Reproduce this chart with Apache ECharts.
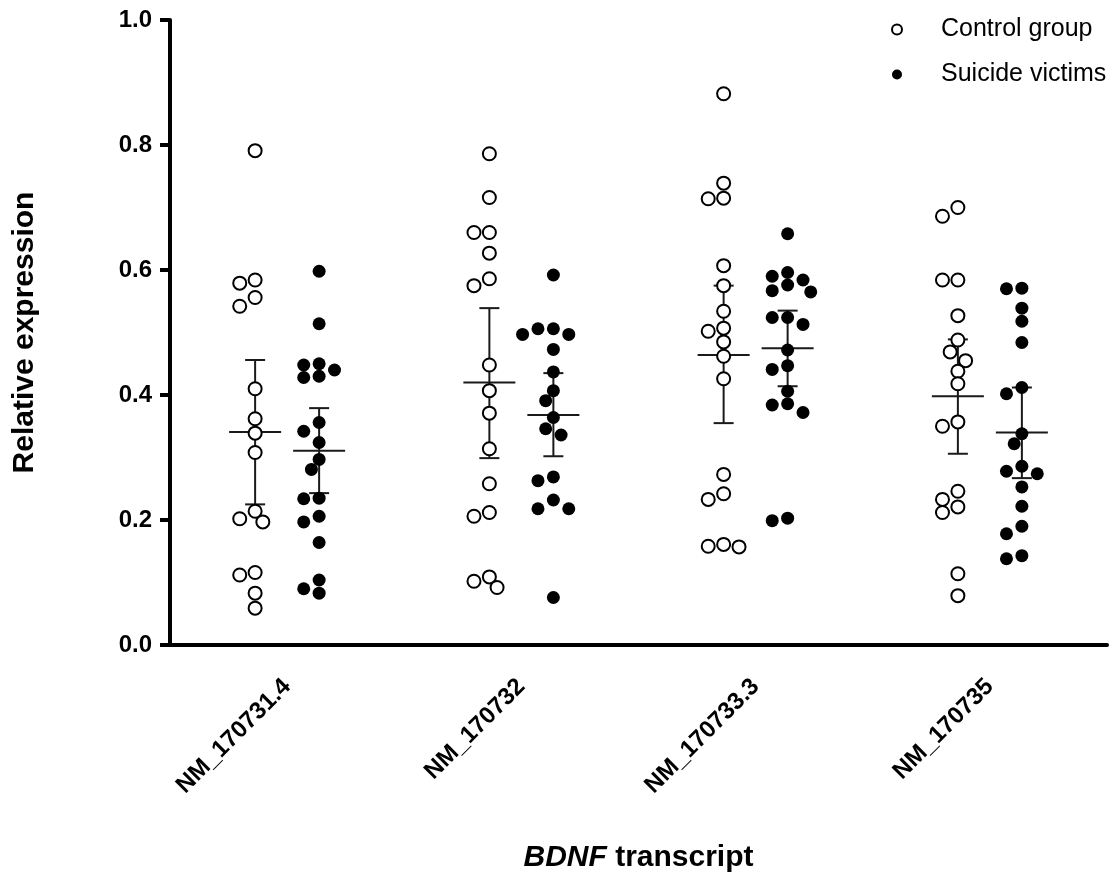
<!DOCTYPE html>
<html>
<head>
<meta charset="utf-8">
<script src="https://cdn.jsdelivr.net/npm/echarts@6/dist/echarts.min.js"></script>
<style>
	html, body { margin: 0; padding: 0; background: #fff; }
	#chart { width: 1120px; height: 877px; }
</style>
</head>
<body>
<div id="chart"></div>
<script>
	// categories
	const transcripts = ['NM_170731.4', 'NM_170732', 'NM_170733.3', 'NM_170735']
	const yTicks = [0, 0.2, 0.4, 0.6, 0.8, 1.0]

	// individual values, one array per transcript
	const control_170731 = [0.791, 0.584, 0.579, 0.556, 0.542, 0.410, 0.362, 0.339, 0.308, 0.214, 0.202, 0.197, 0.116, 0.112, 0.083, 0.059]
	const control_170732 = [0.786, 0.716, 0.660, 0.660, 0.627, 0.586, 0.575, 0.448, 0.407, 0.371, 0.314, 0.258, 0.212, 0.206, 0.109, 0.102, 0.092]
	const control_170733 = [0.882, 0.739, 0.715, 0.714, 0.607, 0.575, 0.534, 0.507, 0.502, 0.485, 0.462, 0.426, 0.273, 0.242, 0.233, 0.161, 0.158, 0.157]
	const control_170735 = [0.700, 0.686, 0.584, 0.584, 0.527, 0.488, 0.469, 0.455, 0.438, 0.418, 0.357, 0.350, 0.246, 0.233, 0.221, 0.212, 0.114, 0.079]

	const suicide_170731 = [0.598, 0.514, 0.450, 0.448, 0.440, 0.430, 0.428, 0.356, 0.342, 0.324, 0.297, 0.281, 0.234, 0.235, 0.206, 0.197, 0.164, 0.104, 0.083, 0.090]
	const suicide_170732 = [0.592, 0.506, 0.506, 0.497, 0.497, 0.473, 0.437, 0.407, 0.391, 0.364, 0.346, 0.336, 0.269, 0.263, 0.232, 0.218, 0.218, 0.076]
	const suicide_170733 = [0.658, 0.596, 0.590, 0.584, 0.576, 0.567, 0.565, 0.524, 0.524, 0.513, 0.472, 0.447, 0.441, 0.406, 0.386, 0.384, 0.372, 0.203, 0.199]
	const suicide_170735 = [0.571, 0.570, 0.539, 0.518, 0.484, 0.412, 0.402, 0.338, 0.322, 0.286, 0.278, 0.274, 0.253, 0.222, 0.190, 0.178, 0.143, 0.138]

	// mean and error bar ends
	const controlMean = [0.341, 0.420, 0.464, 0.398]
	const controlLow = [0.225, 0.299, 0.355, 0.306]
	const controlHigh = [0.456, 0.539, 0.575, 0.489]
	const suicideMean = [0.311, 0.368, 0.475, 0.340]
	const suicideLow = [0.243, 0.302, 0.414, 0.267]
	const suicideHigh = [0.379, 0.435, 0.535, 0.412]

	const controlValues = [control_170731, control_170732, control_170733, control_170735]
	const suicideValues = [suicide_170731, suicide_170732, suicide_170733, suicide_170735]

	const font = 'Arial, "Liberation Sans", sans-serif'
	const grid = { left: 170, right: 13, top: 20, bottom: 232, outerBoundsMode: 'none' }
	const plotW = 1120 - grid.left - grid.right
	const plotH = 877 - grid.top - grid.bottom
	const pxX = plotW / transcripts.length
	const pxY = plotH / 1.0
	const groupShift = 32

	// simple beeswarm: push points sideways until they stop overlapping
	function swarm(values) {
		const step = 7.7, minDist = 12
		const order = values.map((v, i) => i).sort((a, b) => values[b] - values[a])
		const placed = []
		const offs = []
		order.forEach(i => {
			const y = values[i] * pxY
			for (let k = 0; k < 30; k++) {
				const o = (k % 2 ? -1 : 1) * Math.ceil(k / 2) * step
				if (placed.every(p => Math.hypot(p.x - o, p.y - y) >= minDist)) {
					offs[i] = o
					placed.push({ x: o, y: y })
					break
				}
			}
		})
		return offs
	}

	function pointsOf(groups, side) {
		const out = []
		groups.forEach((vals, i) => {
			const offs = swarm(vals)
			vals.forEach((v, j) => {
				out.push([i + 0.5 + (side * groupShift + offs[j]) / pxX, v])
			})
		})
		return out
	}

	function errorSeries(side, mean, low, high) {
		return {
			type: 'custom',
			xAxisIndex: 1,
			z: 1,
			silent: true,
			data: mean.map((m, i) => [i + 0.5, m, low[i], high[i]]),
			encode: { x: 0, y: [1, 2, 3] },
			renderItem(params, api) {
				const c = api.coord([api.value(0), api.value(1)])
				const lo = api.coord([api.value(0), api.value(2)])
				const hi = api.coord([api.value(0), api.value(3)])
				const x = c[0] + side * groupShift
				const st = { stroke: '#1a1a1a', lineWidth: 2 }
				return {
					type: 'group',
					children: [
						{ type: 'line', shape: { x1: x - 26, y1: c[1], x2: x + 26, y2: c[1] }, style: st },
						{ type: 'line', shape: { x1: x, y1: lo[1], x2: x, y2: hi[1] }, style: st },
						{ type: 'line', shape: { x1: x - 10, y1: lo[1], x2: x + 10, y2: lo[1] }, style: st },
						{ type: 'line', shape: { x1: x - 10, y1: hi[1], x2: x + 10, y2: hi[1] }, style: st }
					]
				}
			}
		}
	}

	let mychart = echarts.init(document.getElementById('chart'))
	mychart.setOption({
		animation: false,
		textStyle: { fontFamily: font, color: '#000' },
		grid: grid,
		legend: {
			orient: 'vertical',
			left: 886,
			top: 12,
			itemGap: 20,
			itemWidth: 10,
			itemHeight: 10,
			data: ['Control group', 'Suicide victims'],
			textStyle: { fontSize: 25, fontFamily: font, color: '#000', padding: [0, 0, 0, 34] }
		},
		xAxis: [{
			type: 'category',
			data: transcripts,
			boundaryGap: true,
			axisLine: { lineStyle: { color: '#000', width: 4 } },
			axisTick: { alignWithLabel: true, length: 10, lineStyle: { color: '#000', width: 4 } },
			axisLabel: { rotate: 45, margin: 38, fontSize: 24, fontWeight: 'bold', color: '#000', fontFamily: font },
			name: '{i|BDNF} transcript',
			nameLocation: 'middle',
			nameGap: 198,
			nameTextStyle: {
				fontSize: 30, fontWeight: 'bold', color: '#000', fontFamily: font,
				rich: { i: { fontSize: 30, fontWeight: 'bold', fontStyle: 'italic', color: '#000', fontFamily: font } }
			}
		}, {
			type: 'value',
			min: 0,
			max: transcripts.length,
			show: false
		}],
		yAxis: {
			type: 'value',
			min: yTicks[0],
			max: yTicks[yTicks.length - 1],
			interval: 0.2,
			splitLine: { show: false },
			axisLine: { show: true, lineStyle: { color: '#000', width: 4 } },
			axisTick: { show: true, length: 10, lineStyle: { color: '#000', width: 4 } },
			axisLabel: {
				margin: 18, fontSize: 24, fontWeight: 'bold', color: '#000', fontFamily: font,
				formatter: v => v.toFixed(1)
			},
			name: 'Relative expression',
			nameLocation: 'middle',
			nameGap: 130,
			nameTextStyle: { fontSize: 30, fontWeight: 'bold', color: '#000', fontFamily: font }
		},
		series: [
			errorSeries(-1, controlMean, controlLow, controlHigh),
			errorSeries(1, suicideMean, suicideLow, suicideHigh),
			{
				name: 'Control group',
				type: 'scatter',
				xAxisIndex: 1,
				z: 3,
				symbol: 'circle',
				symbolSize: 13,
				itemStyle: { color: '#fff', borderColor: '#000', borderWidth: 2, opacity: 1 },
				data: pointsOf(controlValues, -1)
			},
			{
				name: 'Suicide victims',
				type: 'scatter',
				xAxisIndex: 1,
				z: 3,
				symbol: 'circle',
				symbolSize: 13,
				itemStyle: { color: '#000', opacity: 1 },
				data: pointsOf(suicideValues, 1)
			}
		]
	})
</script>
</body>
</html>
